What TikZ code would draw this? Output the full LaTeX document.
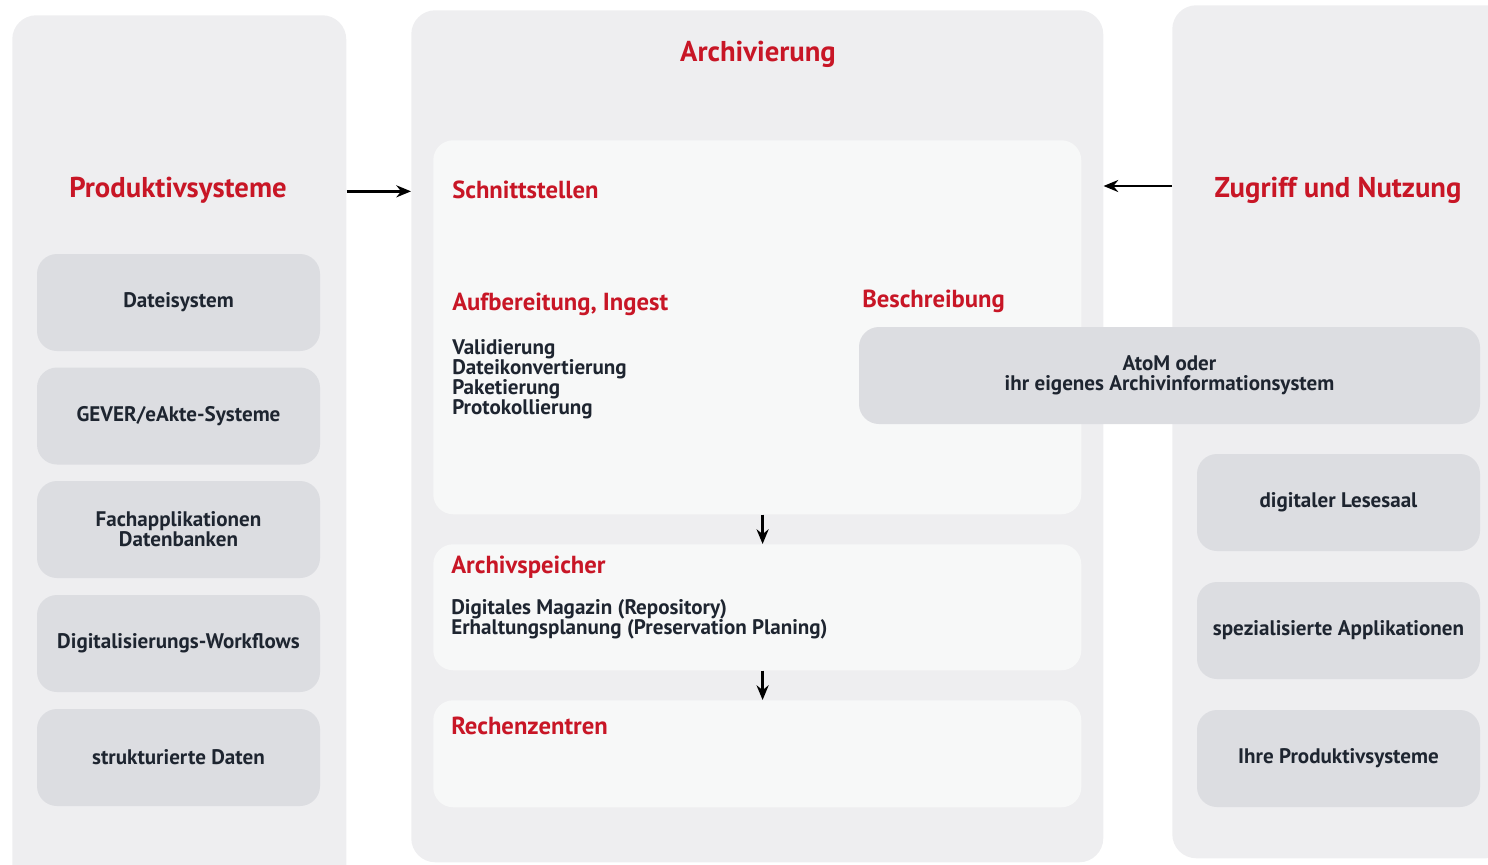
\documentclass[tikz,border=0pt]{standalone}
\usepackage{fontspec}
\setmainfont{PT Sans}
\usepackage{tikz}
\usetikzlibrary{arrows.meta}

\definecolor{archred}{RGB}{200,22,38}
\definecolor{archtext}{RGB}{30,37,48}
\definecolor{panelgray}{RGB}{238,238,240}
\definecolor{boxgray}{RGB}{220,221,225}
\definecolor{innerwhite}{RGB}{247,248,248}

\tikzset{
  panel/.style={fill=panelgray, rounded corners=18pt, anchor=north west, inner sep=0pt},
  innerbox/.style={fill=innerwhite, rounded corners=15pt, anchor=north west, inner sep=0pt,
    minimum width=486pt},
  itembox/.style={fill=boxgray, rounded corners=15pt, text=archtext, align=center,
    minimum width=212.25pt, minimum height=72.75pt, inner sep=0pt,
    font=\bfseries\fontsize{15.8}{15}\selectfont},
  bigtitle/.style={text=archred, font=\bfseries\fontsize{21.5}{24}\selectfont},
  subtitle/.style={text=archred, anchor=west, inner sep=0pt, font=\bfseries\fontsize{18.5}{21}\selectfont},
  bodytext/.style={text=archtext, anchor=north west, inner sep=0pt, align=left,
    font=\bfseries\fontsize{15.8}{15}\selectfont},
  arr/.style={-{Stealth[length=11pt,width=9pt]}, line width=2.2pt, black}
}

\begin{document}
\begin{tikzpicture}[x=0.75pt, y=-0.75pt]
    \useasboundingbox (0,0) rectangle (1488,864);
    \clip (0,0) rectangle (1488,864);

    % Draw the three panels
    \node[panel, minimum width=250.5pt, minimum height=663.75pt] (prod) at (12,15) {};
    \node[panel, minimum width=519pt, minimum height=639pt] (arch) at (411,10) {};
    \node[panel, minimum width=253.5pt, minimum height=639.75pt] (zug) at (1172,5) {};

    % Panel titles
    \node[bigtitle] (prodtitle) at (178,190) {Produktivsysteme};
    \node[bigtitle] (archtitle) at (758,54) {Archivierung};
    \node[bigtitle] (zugtitle) at (1338,190) {Zugriff und Nutzung};

    % Inner boxes of the archive
    \node[innerbox, minimum height=280.5pt] (ingest) at (433,140) {};
    \node[innerbox, minimum height=94.5pt] (speicher) at (433,544) {};
    \node[innerbox, minimum height=80.25pt] (rechen) at (433,700) {};

    % Headings and lists inside the archive
    \node[subtitle] (schnitt) at (452,190) {Schnittstellen};
    \node[subtitle] (aufb) at (452,304) {Aufbereitung, Ingest};
    \node[bodytext] (aufblist) at (452,339) {Validierung\\Dateikonvertierung\\Paketierung\\Protokollierung};
    \node[subtitle] (beschr) at (862,301) {Beschreibung};
    \node[subtitle] (speichertitle) at (451,567) {Archivspeicher};
    \node[bodytext] (speicherlist) at (451,599) {Digitales Magazin (Repository)\\Erhaltungsplanung (Preservation Planing)};
    \node[subtitle] (rechentitle) at (451,726) {Rechenzentren};

    % Production systems
    \node[itembox] (datei) at (178.5,302.5) {Dateisystem};
    \node[itembox] (gever) at (178.5,416) {GEVER/eAkte-Systeme};
    \node[itembox] (fach) at (178.5,529.5) {Fachapplikationen\\Datenbanken};
    \node[itembox] (digi) at (178.5,643.5) {Digitalisierungs-Workflows};
    \node[itembox] (struk) at (178.5,757.5) {strukturierte Daten};

    % Access and use
    \node[itembox, minimum width=465.75pt] (atom) at (1169.5,375.5) {AtoM oder\\ihr eigenes Archivinformationsystem};
    \node[itembox] (lesesaal) at (1338.5,502.5) {digitaler Lesesaal};
    \node[itembox] (spez) at (1338.5,630.5) {spezialisierte Applikationen};
    \node[itembox] (ihre) at (1338.5,758.5) {Ihre Produktivsysteme};

    % Arrows
    \draw[arr] ([yshift=-1pt]prodtitle -| prod.east) -- ([yshift=-1pt]prodtitle -| arch.west);
    \draw[arr] ([yshift=3pt]zugtitle -| zug.west) -- ([yshift=3pt]zugtitle -| arch.east);
    \draw[arr] ([xshift=4pt]ingest.south) -- ([xshift=4pt]speicher.north);
    \draw[arr] ([xshift=4pt]speicher.south) -- ([xshift=4pt]rechen.north);

\end{tikzpicture}
\end{document}
